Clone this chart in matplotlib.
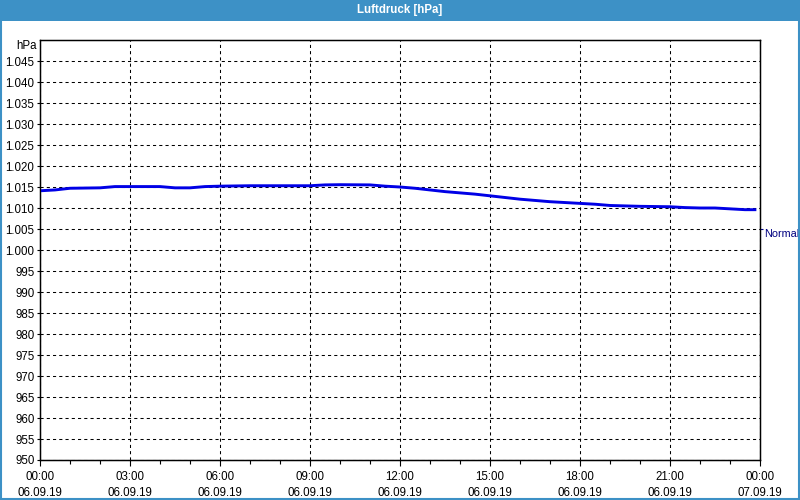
import numpy as np
import matplotlib.pyplot as plt
from matplotlib.patches import Rectangle
from matplotlib.ticker import FixedLocator, MultipleLocator

# hours since 06.09.19 00:00
hours = [0, 0.5, 1, 2, 2.5, 4, 4.5, 5, 5.5, 6, 7, 8, 9, 9.5, 10, 11, 11.5,
         12, 12.5, 13, 13.5, 14, 14.5, 15, 15.5, 16, 16.5, 17, 17.5, 18,
         18.5, 19, 20, 21, 21.5, 22, 22.5, 23, 23.5, 23.83]
pressure = [1014.1, 1014.3, 1014.7, 1014.8, 1015.1, 1015.1, 1014.8, 1014.8,
            1015.1, 1015.2, 1015.3, 1015.3, 1015.3, 1015.5, 1015.55, 1015.5,
            1015.2, 1015.0, 1014.7, 1014.3, 1013.9, 1013.6, 1013.3, 1012.9,
            1012.5, 1012.1, 1011.8, 1011.5, 1011.3, 1011.1, 1010.9, 1010.6,
            1010.4, 1010.3, 1010.1, 1010.0, 1010.0, 1009.8, 1009.6, 1009.6]

x_ticks = [0, 3, 6, 9, 12, 15, 18, 21, 24]
x_labels = ["00:00\n06.09.19", "03:00\n06.09.19", "06:00\n06.09.19",
            "09:00\n06.09.19", "12:00\n06.09.19", "15:00\n06.09.19",
            "18:00\n06.09.19", "21:00\n06.09.19", "00:00\n07.09.19"]
y_ticks = list(range(950, 1050, 5))
normal_level = 1005

bar_color = "#3d91c6"


def fmt_hpa(v: int) -> str:
    return f"{v:,}".replace(",", ".")


def main() -> None:
    plt.rcParams["font.family"] = ["Liberation Sans", "DejaVu Sans"]
    plt.rcParams["font.size"] = 8.3

    fig = plt.figure(figsize=(8, 5), dpi=100, facecolor="white")

    # title bar and outer frame
    fig.patches.append(Rectangle((0, 0.958), 1, 0.042, transform=fig.transFigure,
                                 facecolor=bar_color, edgecolor="none", zorder=0))
    fig.patches.append(Rectangle((0.001, 0.002), 0.998, 0.996, transform=fig.transFigure,
                                 facecolor="none", edgecolor=bar_color, linewidth=1.5,
                                 zorder=1))
    fig.text(0.5, 0.979, "Luftdruck [hPa]", color="white", fontweight="bold",
             ha="center", va="center", fontsize=8.3)

    ax = fig.add_axes([0.05, 0.08, 0.90, 0.84])
    ax.plot(hours, pressure, color="#0000e6", linewidth=2.1, zorder=3)

    ax.set_xlim(0, 24)
    ax.set_ylim(950, 1050)
    ax.set_xticks(x_ticks)
    ax.set_xticklabels(x_labels, linespacing=1.4)
    ax.xaxis.set_minor_locator(MultipleLocator(1))
    ax.set_yticks(y_ticks)
    ax.set_yticklabels([fmt_hpa(v) for v in y_ticks])

    ax.tick_params(axis="x", which="major", length=4, width=0.8, pad=4)
    ax.tick_params(axis="x", which="minor", length=3, width=0.8)
    ax.tick_params(axis="y", length=2, width=0.8, pad=2)
    ax.grid(True, which="major", color="black", linestyle=(0, (3, 3)), linewidth=0.75)
    for sp in ax.spines.values():
        sp.set_linewidth(1.0)

    ax.text(-0.005, 1.0, "hPa", transform=ax.transAxes, ha="right", va="top")

    ax2 = ax.twinx()
    ax2.set_ylim(ax.get_ylim())
    ax2.yaxis.set_major_locator(FixedLocator([normal_level]))
    ax2.set_yticklabels(["Normal"], color="#000080", fontsize=7.8)
    ax2.tick_params(axis="y", length=2, width=0.8, pad=1, colors="#000080")
    for lbl in ax2.get_yticklabels():
        lbl.set_va("top")

    fig.savefig("out.png", dpi=100)


if __name__ == "__main__":
    main()
